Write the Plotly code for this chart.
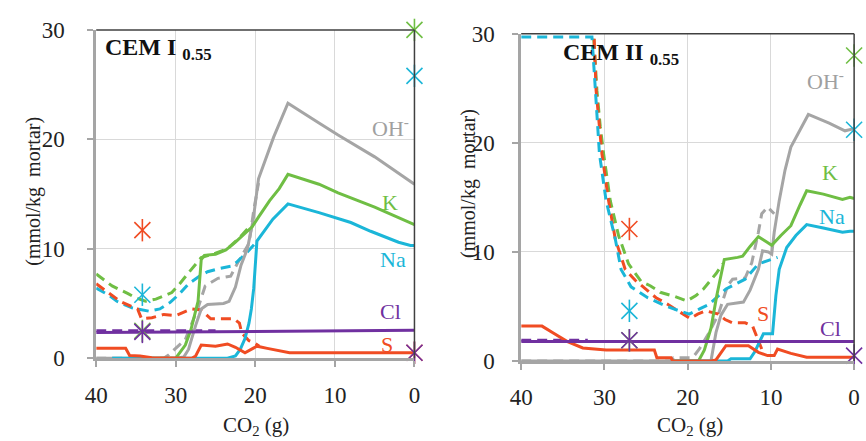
import plotly.graph_objects as go

# ---------------- DATA: CEM I 0.55 (left panel) ----------------
OH_I_sol_x = [40, 30, 29, 28.4, 27.5, 26.8, 26, 24, 23.3, 22.5, 21.8, 21, 20.3, 19.6, 17.7, 15.9, 12, 9.6, 5, 0]
OH_I_sol_y = [0, 0, 0.1, 0.8, 3, 4.5, 4.9, 5.0, 5.2, 6.5, 8.5, 10, 12.5, 16.4, 20.2, 23.3, 21.5, 20.4, 18.4, 15.9]
OH_I_dash_x = [40, 31.5, 30.9, 29.5, 28.8, 27.2, 26.3, 24.7, 23.1, 22.3, 20.8, 20.2, 19.6]
OH_I_dash_y = [0, 0, 0.3, 1.2, 1.7, 4.6, 6.6, 7.3, 7.5, 8.6, 10.5, 13.5, 16.0]
K_I_sol_x = [33, 30, 29.7, 28.8, 28.1, 27.2, 26.8, 26.4, 25, 23.7, 22.5, 21.5, 20.4, 19.5, 18.2, 17, 15.9, 12, 9.6, 5, 0]
K_I_sol_y = [0, 0, 0.3, 1.2, 2.6, 5.2, 9.0, 9.4, 9.5, 9.9, 10.6, 11.3, 12.0, 13.0, 14.4, 15.5, 16.8, 15.9, 15.1, 13.8, 12.2]
K_I_dash_x = [40, 38, 36, 35, 33.8, 32.5, 30.5, 29.5, 28.4, 26.8, 25, 23.5, 22, 21, 20.5]
K_I_dash_y = [7.7, 6.6, 5.9, 5.5, 5.2, 5.4, 6.0, 6.8, 7.8, 9.2, 9.6, 10.0, 11.0, 11.8, 12.0]
Na_I_sol_x = [38, 23.5, 22.5, 21.9, 21.3, 20.8, 20.5, 20.2, 19.8, 19.3, 17.8, 15.9, 12, 8, 5.5, 2, 0.5, 0]
Na_I_sol_y = [0, 0, 0.2, 0.8, 1.8, 3.2, 4.5, 6.4, 10.7, 11.2, 12.7, 14.1, 13.3, 12.4, 11.6, 10.6, 10.3, 10.3]
Na_I_dash_x = [40, 38.5, 37.4, 35.5, 33.4, 32, 30.7, 29.5, 28.4, 27, 26, 24.5, 23.1, 22.3, 21, 20]
Na_I_dash_y = [6.4, 5.8, 5.2, 4.6, 4.3, 4.5, 5.1, 5.9, 6.8, 7.5, 7.9, 8.2, 8.4, 8.8, 9.7, 10.5]
S_I_sol_x = [40, 36.3, 35.8, 34.5, 33, 30, 28, 27.5, 26.8, 25, 23.5, 22.5, 21.3, 20.3, 19.8, 18.5, 17, 15.7, 10, 0]
S_I_sol_y = [0.9, 0.9, 0.25, 0.2, 0.05, 0.0, 0.0, 0.2, 1.2, 1.1, 1.3, 1.0, 0.5, 0.9, 1.1, 0.9, 0.7, 0.5, 0.5, 0.5]
S_I_dash_x = [40, 38.5, 37, 35.5, 34.8, 34.3, 33, 31.5, 30, 28, 26.8, 25.6, 24.5, 22.7, 22, 21.7, 20.8, 20.1, 19.5]
S_I_dash_y = [6.8, 6.0, 5.2, 4.7, 4.5, 3.6, 3.7, 4.0, 3.9, 4.5, 4.4, 3.6, 3.6, 3.6, 3.2, 2.3, 1.6, 1.4, 1.1]
Cl_I_sol_x = [40, 0]
Cl_I_sol_y = [2.35, 2.55]
Cl_I_dash_x = [40, 25]
Cl_I_dash_y = [2.5, 2.5]
# measured points (asterisks): [K, Na, S, Cl]
MEAS_I_x1 = 34.2
MEAS_I_y1 = [2.5, 5.8, 11.7, 2.4]
MEAS_I_x2 = 0
MEAS_I_y2 = [30.0, 25.8, 0.5, 0.5]

# ---------------- DATA: CEM II 0.55 (right panel) ----------------
OH_II_sol_x = [40, 17.2, 16.6, 16.0, 15.2, 13.3, 12.5, 11.5, 11.0, 10.3, 9.9, 9.6, 9.0, 8.3, 7.6, 5.5, 3, 1.1, 0]
OH_II_sol_y = [0, 0, 2.6, 4.2, 5.2, 5.4, 6.5, 8.4, 10.1, 10.0, 9.8, 11.8, 14.7, 17.5, 19.6, 22.6, 21.8, 21.1, 21.3]
OH_II_dash_x = [40, 22, 21.7, 19.7, 19.2, 18.6, 17.5, 16.3, 15.2, 14.6, 13.1, 12.3, 11.5, 11.1, 10.4, 9.6]
OH_II_dash_y = [0, 0, 0.3, 0.3, 0.5, 1.1, 2.5, 4.3, 6.9, 7.5, 7.6, 9.0, 11.8, 13.5, 14.1, 13.5]
K_II_sol_x = [22, 18.7, 18.0, 17.2, 16.5, 15.6, 14, 13.4, 12.5, 11.5, 10.5, 9.9, 8.8, 7.6, 6.5, 5.7, 3.7, 1.4, 0.5, 0]
K_II_sol_y = [0, 0, 1.0, 3.0, 6.0, 9.3, 9.5, 9.6, 10.5, 11.4, 10.9, 10.6, 11.5, 12.4, 14.3, 15.6, 15.3, 14.8, 15.0, 14.9]
K_II_dash_x = [31.4, 31.1, 30.9, 30.5, 30.1, 29.3, 28.3, 27.1, 25.6, 24.5, 23.3, 21.5, 20.1, 19, 18.1, 16.6, 15.8]
K_II_dash_y = [31, 27.5, 24.8, 21.5, 19, 14.7, 11.5, 8.9, 7.3, 6.9, 6.3, 5.9, 5.5, 6.0, 6.6, 8.0, 8.9]
Na_II_sol_x = [22, 15.2, 14.8, 12.5, 11.9, 11.1, 10.9, 9.8, 9.4, 9.0, 8.1, 7, 5.7, 3.7, 1.4, 0.5, 0]
Na_II_sol_y = [0, 0, 0.2, 0.2, 0.9, 2.3, 2.5, 2.5, 6.0, 8.4, 10.4, 11.5, 12.5, 12.2, 11.8, 11.9, 11.9]
Na_II_dash_x = [40, 31.5, 31.2, 30.6, 29.8, 28.7, 28, 26.8, 24.8, 22.5, 21, 19.8, 18.5, 17.4, 15.4, 13.1, 11.5, 10.4, 9.2]
Na_II_dash_y = [29.7, 29.7, 26.2, 19, 14.7, 11.2, 8.4, 6.8, 5.8, 5.0, 4.6, 4.3, 4.8, 5.2, 6.6, 7.5, 8.9, 9.2, 9.5]
S_II_sol_x = [40, 37.5, 36, 34.5, 32.6, 29.8, 24, 23.7, 22, 21.8, 17.2, 16.6, 15.4, 12.7, 11.5, 10.4, 9.6, 9.2, 7.6, 5.7, 0]
S_II_sol_y = [3.2, 3.2, 2.5, 1.8, 1.2, 1.0, 1.0, 0.3, 0.3, 0.0, 0.0, 0.1, 1.4, 1.4, 0.8, 0.5, 0.5, 1.1, 0.7, 0.35, 0.35]
S_II_dash_x = [31.3, 31.0, 30.3, 29.5, 28.7, 27.5, 26.3, 25.1, 23.8, 22.4, 21, 19.7, 18.8, 17.8, 16.3, 15.5, 14.6, 13.1, 12.2, 11.6, 11.1]
S_II_dash_y = [31, 24.8, 19, 14.7, 11.2, 8.4, 7.4, 6.6, 5.8, 5.2, 4.5, 3.9, 4.3, 4.6, 4.3, 3.8, 3.5, 3.5, 3.2, 2.0, 1.1]
Cl_II_sol_x = [40, 0]
Cl_II_sol_y = [1.8, 1.8]
Cl_II_dash_x = [40, 32]
Cl_II_dash_y = [1.9, 1.9]
MEAS_II_x1 = 27
MEAS_II_y1 = [1.9, 4.6, 12.1, 1.9]
MEAS_II_x2 = 0
MEAS_II_y2 = [28.0, 21.2, -0.1, 0.5]

X_TICKS = [40, 30, 20, 10, 0]
Y_TICKS = [0, 10, 20, 30]

# ---------------- STYLE ----------------
GRAY = "#A5A5A5"
GREEN = "#6FBE44"
CYAN = "#1BB6D8"
RED = "#F04C23"
PURPLE = "#7030A0"
MEAS_COLORS = [GREEN, CYAN, RED, PURPLE]
FONT = "Liberation Serif"
DASH = "10px,6px"
LW = 3

fig = go.Figure()


def line(x, y, color, dash, xa, ya):
    fig.add_trace(go.Scatter(x=x, y=y, mode="lines", xaxis=xa, yaxis=ya,
                             line=dict(color=color, width=LW, dash=dash),
                             showlegend=False, hoverinfo="skip"))


def stars(xv, ys, xa, ya):
    for c, yv in zip(MEAS_COLORS, ys):
        for sym in ["x-thin-open", "line-ns-open"]:
            fig.add_trace(go.Scatter(x=[xv], y=[yv], mode="markers", xaxis=xa, yaxis=ya,
                                     cliponaxis=False,
                                     marker=dict(symbol=sym, size=16, color=c,
                                                 line=dict(color=c, width=1.6)),
                                     showlegend=False, hoverinfo="skip"))


for xa, ya, sets in [
    ("x", "y", [
        (OH_I_dash_x, OH_I_dash_y, GRAY, DASH), (K_I_dash_x, K_I_dash_y, GREEN, DASH),
        (Na_I_dash_x, Na_I_dash_y, CYAN, DASH), (S_I_dash_x, S_I_dash_y, RED, DASH),
        (Cl_I_dash_x, Cl_I_dash_y, PURPLE, DASH),
        (OH_I_sol_x, OH_I_sol_y, GRAY, "solid"), (K_I_sol_x, K_I_sol_y, GREEN, "solid"),
        (Na_I_sol_x, Na_I_sol_y, CYAN, "solid"), (S_I_sol_x, S_I_sol_y, RED, "solid"),
        (Cl_I_sol_x, Cl_I_sol_y, PURPLE, "solid")]),
    ("x2", "y2", [
        (OH_II_dash_x, OH_II_dash_y, GRAY, DASH), (K_II_dash_x, K_II_dash_y, GREEN, DASH),
        (S_II_dash_x, S_II_dash_y, RED, DASH), (Na_II_dash_x, Na_II_dash_y, CYAN, DASH),
        (Cl_II_dash_x, Cl_II_dash_y, PURPLE, DASH),
        (OH_II_sol_x, OH_II_sol_y, GRAY, "solid"), (K_II_sol_x, K_II_sol_y, GREEN, "solid"),
        (Na_II_sol_x, Na_II_sol_y, CYAN, "solid"), (S_II_sol_x, S_II_sol_y, RED, "solid"),
        (Cl_II_sol_x, Cl_II_sol_y, PURPLE, "solid")]),
]:
    for x, y, c, d in sets:
        line(x, y, c, d, xa, ya)

stars(MEAS_I_x1, MEAS_I_y1, "x", "y")
stars(MEAS_I_x2, MEAS_I_y2, "x", "y")
stars(MEAS_II_x1, MEAS_II_y1, "x2", "y2")
stars(MEAS_II_x2, MEAS_II_y2, "x2", "y2")

W, H = 866, 441
L1, R1, T1, B1 = 86, 411, 19, 367
L2, R2, T2, B2 = 520, 860, 23, 370

axis_common = dict(
    showgrid=True, gridcolor="#D9D9D9", gridwidth=1,
    showline=True, linecolor=GRAY, linewidth=2.5, zeroline=False,
    ticks="outside", ticklen=6, tickcolor=GRAY, tickwidth=1.5,
    tickfont=dict(family=FONT, size=23, color="#222222"),
)
xax = dict(**axis_common, tickvals=X_TICKS, range=[40, 0], ticklabelstandoff=8)
yax = dict(**axis_common, tickvals=Y_TICKS, range=[0, 30])

fig.update_layout(
    width=W, height=H, margin=dict(l=0, r=0, t=0, b=0),
    paper_bgcolor="white", plot_bgcolor="white", showlegend=False,
    font=dict(family=FONT),
    xaxis=dict(**xax, domain=[L1 / W, R1 / W], anchor="y"),
    yaxis=dict(**yax, domain=[1 - B1 / H, 1 - T1 / H], anchor="x", ticklabelstandoff=18),
    xaxis2=dict(**xax, domain=[L2 / W, R2 / W], anchor="y2"),
    yaxis2=dict(**yax, domain=[1 - B2 / H, 1 - T2 / H], anchor="x2", ticklabelstandoff=13),
)

# dark top/right frame lines
for xr, yr in [("x", "y"), ("x2", "y2")]:
    fig.add_shape(type="line", xref=f"{xr} domain", yref=f"{yr} domain",
                  x0=0, x1=1, y0=1, y1=1, line=dict(color="#404040", width=1.5))
    fig.add_shape(type="line", xref=f"{xr} domain", yref=f"{yr} domain",
                  x0=1, x1=1, y0=0, y1=1, line=dict(color="#404040", width=1.5))

ann = []


def txt(xp, yp, s, color, size=21, xanchor="center", **kw):
    ann.append(dict(x=xp / W, y=1 - yp / H, xref="paper", yref="paper", text=s,
                    showarrow=False, xanchor=xanchor, yanchor="middle",
                    font=dict(family=FONT, size=size, color=color), **kw))


# series labels left
for s, c, (xp, yp) in [("OH<sup>-</sup>", "#A0A0A0", (387, 122)), ("K", GREEN, (386, 202)),
                       ("Na", CYAN, (389, 262)), ("Cl", PURPLE, (387, 318)), ("S", RED, (383, 352))]:
    txt(xp, yp, s, c, size=22)
# series labels right
for s, c, (xp, yp) in [("OH<sup>-</sup>", "#A0A0A0", (831, 72)), ("K", GREEN, (835, 170)),
                       ("Na", CYAN, (837, 217)), ("S", RED, (767, 320)), ("Cl", PURPLE, (836, 335))]:
    txt(xp, yp, s, c, size=22)

# panel titles
txt(93, 39, "<b>CEM I <sub>0.55</sub></b>", "#111111", size=24, xanchor="left")
txt(561, 45, "<b>CEM II <sub>0.55</sub></b>", "#111111", size=24, xanchor="left")

# axis titles
txt(249, 439, "CO<sub>2</sub> (g)", "#222222", size=21)
txt(692, 439, "CO<sub>2</sub> (g)", "#222222", size=21)
txt(22, 190, "(mmol/kg  mortar)", "#222222", size=20, textangle=-90)
txt(466, 182, "(mmol/kg  mortar)", "#222222", size=20, textangle=-90)

fig.update_layout(annotations=ann)
fig.write_html("out.html")
